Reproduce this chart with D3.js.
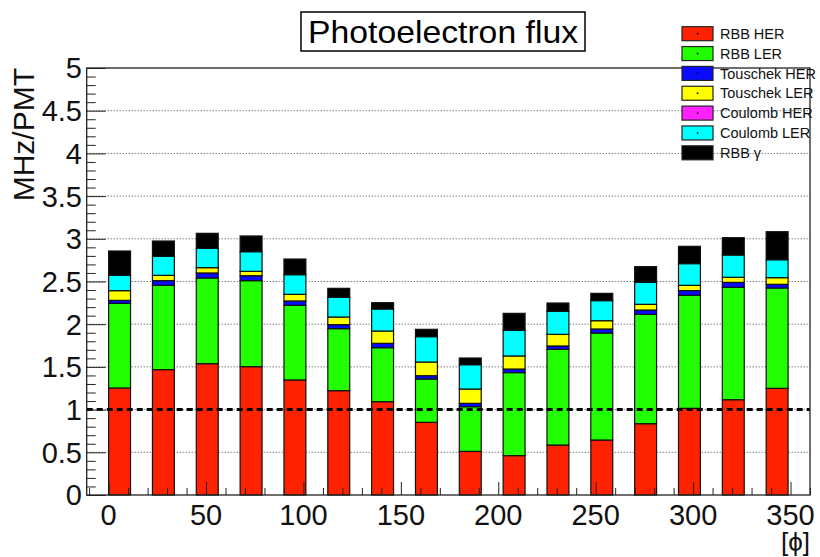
<!DOCTYPE html>
<html>
<head>
<meta charset="utf-8">
<script src="https://cdn.jsdelivr.net/npm/d3@7"></script>
<style>
  html, body { margin: 0; padding: 0; background: #fff; }
  svg { display: block; font-family: "Liberation Sans", Arial, Helvetica, sans-serif; }
</style>
</head>
<body>
<svg id="chart" width="820" height="557"></svg>
<script>
// Azimuthal bins (lower edge, degrees) and bin width
const phiBins = [0, 22.5, 45, 67.5, 90, 112.5, 135, 157.5, 180, 202.5, 225, 247.5, 270, 292.5, 315, 337.5];
const binWidth = 22.5;

// Photoelectron flux per background source, MHz/PMT
const rbbHER       = [1.253, 1.468, 1.538, 1.503, 1.347, 1.222, 1.093, 0.851, 0.511, 0.461, 0.585, 0.644, 0.835, 1.015, 1.116, 1.249];
const rbbLER       = [0.992, 0.987, 1.003, 1.007, 0.874, 0.726, 0.632, 0.507, 0.523, 0.972, 1.121, 1.253, 1.280, 1.323, 1.316, 1.175];
const touschekHER  = [0.034, 0.055, 0.059, 0.058, 0.051, 0.047, 0.051, 0.039, 0.039, 0.042, 0.039, 0.047, 0.051, 0.055, 0.058, 0.043];
const touschekLER  = [0.114, 0.062, 0.062, 0.051, 0.078, 0.089, 0.144, 0.160, 0.168, 0.153, 0.136, 0.097, 0.067, 0.062, 0.059, 0.078];
const coulombHER   = [0, 0, 0, 0, 0, 0, 0, 0, 0, 0, 0, 0, 0, 0, 0, 0];
const coulombLER   = [0.179, 0.223, 0.226, 0.230, 0.230, 0.231, 0.258, 0.297, 0.285, 0.300, 0.270, 0.235, 0.257, 0.254, 0.261, 0.210];
const rbbGamma     = [0.285, 0.179, 0.176, 0.184, 0.183, 0.105, 0.074, 0.086, 0.078, 0.199, 0.097, 0.085, 0.184, 0.203, 0.203, 0.328];

const seriesNames  = ["RBB HER", "RBB LER", "Touschek HER", "Touschek LER", "Coulomb HER", "Coulomb LER", "RBB \u03b3"];
const seriesColors = ["#ff2200", "#22ff00", "#0a0aff", "#ffff00", "#ff22ff", "#00ffff", "#000000"];
const seriesValues = [rbbHER, rbbLER, touschekHER, touschekLER, coulombHER, coulombLER, rbbGamma];

const yTicks = [0, 0.5, 1, 1.5, 2, 2.5, 3, 3.5, 4, 4.5, 5];
const xTicks = [0, 50, 100, 150, 200, 250, 300, 350];
const threshold = 1;

const svg = d3.select("#chart");

const x = d3.scaleLinear().domain([-11.25, 360]).range([86.7, 810]);
const y = d3.scaleLinear().domain([0, 5]).range([495, 68]);

// table for the stack layout
const rows = phiBins.map((phi, i) => {
  const r = { phi };
  seriesNames.forEach((n, k) => { r[n] = seriesValues[k][i]; });
  return r;
});
const stacked = d3.stack().keys(seriesNames)(rows);

// dotted horizontal grid
svg.append("g")
  .selectAll("line")
  .data(yTicks.filter(t => t > 0 && t < 5))
  .join("line")
  .attr("x1", x.range()[0]).attr("x2", x.range()[1])
  .attr("y1", d => y(d)).attr("y2", d => y(d))
  .attr("stroke", "#444").attr("stroke-width", 1)
  .attr("stroke-dasharray", "1,2");

// stacked bars: each bar fills the first half of its bin
const barW = binWidth * 0.5;
const layers = svg.append("g")
  .selectAll("g")
  .data(stacked)
  .join("g")
  .attr("fill", (d, i) => seriesColors[i]);

layers.selectAll("rect")
  .data(d => d.filter(s => s[1] - s[0] > 0))
  .join("rect")
  .attr("x", d => x(d.data.phi))
  .attr("width", d => x(d.data.phi + barW) - x(d.data.phi))
  .attr("y", d => y(d[1]))
  .attr("height", d => y(d[0]) - y(d[1]))
  .attr("stroke", "#111")
  .attr("stroke-width", 1.2);

// reference level at 1 MHz/PMT
svg.append("line")
  .attr("x1", x.range()[0]).attr("x2", x.range()[1])
  .attr("y1", y(threshold)).attr("y2", y(threshold))
  .attr("stroke", "#000").attr("stroke-width", 3)
  .attr("stroke-dasharray", "6,4");

// frame
svg.append("rect")
  .attr("x", x.range()[0]).attr("y", y(5))
  .attr("width", x.range()[1] - x.range()[0])
  .attr("height", y(0) - y(5))
  .attr("fill", "none").attr("stroke", "#222").attr("stroke-width", 1.3);

// y axis
const yAxis = d3.axisLeft(y)
  .tickValues(d3.range(0, 5.0001, 0.1))
  .tickSize(0)
  .tickFormat("");
const yAxisG = svg.append("g").attr("transform", `translate(${x.range()[0]},0)`).call(yAxis);
yAxisG.select(".domain").remove();
yAxisG.selectAll(".tick line")
  .attr("x2", d => (Math.abs(d * 2 - Math.round(d * 2)) < 1e-6 ? 19 : 9))
  .attr("stroke", "#222").attr("stroke-width", 1);

svg.append("g")
  .selectAll("text")
  .data(yTicks)
  .join("text")
  .attr("x", 82)
  .attr("y", d => y(d))
  .attr("dy", "0.36em")
  .attr("text-anchor", "end")
  .attr("font-size", 29)
  .attr("fill", "#111")
  .text(d => d3.format("~g")(d));

// x axis
const xAxis = d3.axisBottom(x)
  .tickValues(d3.range(-10, 360.001, 10))
  .tickSize(0)
  .tickFormat("");
const xAxisG = svg.append("g").attr("transform", `translate(0,${y(0)})`).call(xAxis);
xAxisG.select(".domain").remove();
xAxisG.selectAll(".tick line")
  .attr("y2", d => (d % 50 === 0 ? -13 : -7))
  .attr("stroke", "#222").attr("stroke-width", 1);

svg.append("g")
  .selectAll("text")
  .data(xTicks)
  .join("text")
  .attr("x", d => x(d))
  .attr("y", 525)
  .attr("text-anchor", "middle")
  .attr("font-size", 29)
  .attr("fill", "#111")
  .text(d => d);

// axis titles
svg.append("text")
  .attr("transform", "translate(33.5,68) rotate(-90)")
  .attr("text-anchor", "end")
  .attr("font-size", 30)
  .attr("fill", "#111")
  .text("MHz/PMT");

svg.append("text")
  .attr("x", 810).attr("y", 551)
  .attr("text-anchor", "end")
  .attr("font-size", 26)
  .attr("fill", "#111")
  .text("[\u03d5]");

// title box
const title = svg.append("g");
title.append("rect")
  .attr("x", 301).attr("y", 12).attr("width", 284).attr("height", 39)
  .attr("fill", "#fff").attr("stroke", "#000").attr("stroke-width", 1.5);
title.append("text")
  .attr("x", 443).attr("y", 43)
  .attr("text-anchor", "middle")
  .attr("font-size", 32)
  .attr("textLength", 270).attr("lengthAdjust", "spacingAndGlyphs")
  .attr("fill", "#000")
  .text("Photoelectron flux");

// legend
const legend = svg.append("g")
  .selectAll("g")
  .data(seriesNames)
  .join("g")
  .attr("transform", (d, i) => `translate(682,${33.7 + i * 19.85})`);
legend.append("rect")
  .attr("x", 0).attr("y", -7).attr("width", 31).attr("height", 14)
  .attr("fill", (d, i) => seriesColors[i])
  .attr("stroke", "#222").attr("stroke-width", 1.2);
legend.append("rect")
  .attr("x", 14.8).attr("y", -0.8).attr("width", 1.6).attr("height", 1.6)
  .attr("fill", "#000");
legend.append("text")
  .attr("x", 38).attr("y", 0)
  .attr("dy", "0.36em")
  .attr("font-size", 14.5)
  .attr("fill", "#111")
  .text(d => d);
</script>
</body>
</html>
